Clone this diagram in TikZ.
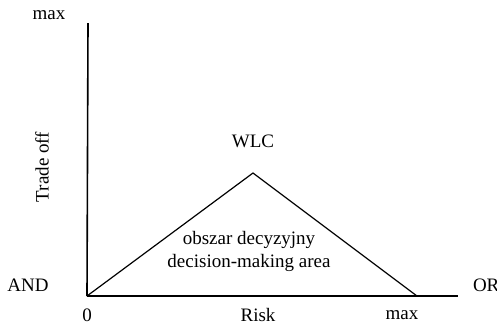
\documentclass[tikz,border=0pt]{standalone}
\usepackage{fontspec}
\setmainfont{Liberation Serif}
\usepackage{tikz}

\begin{document}
\begin{tikzpicture}[
  x=1pt,
  y=-1pt,
  lbl/.style={
    font=\fontsize{19}{22}\selectfont,
    inner sep=0pt,
    outer sep=0pt
  },
  axis/.style={line width=1.6pt},
  edge/.style={line width=1.2pt, line join=miter}
]
\useasboundingbox (0,0) rectangle (497,325);
\coordinate (O) at (87,296);
\coordinate (ytop) at (88,23);
\coordinate (xend) at (458,296);
\coordinate (apex) at (253,173);
\coordinate (rmax) at (417,296);
\draw[axis] (O) -- (ytop);
\draw[axis] (O) -- (xend);
\draw[edge] (O) -- (apex) -- (rmax);
% labels
\node[lbl] (maxy) at (49,15) {max};
\node[lbl, rotate=90] (trade) at (42,167) {Trade off};
\node[lbl] (and) at (28,285) {AND};
\node[lbl, anchor=west] (or) at (473,285) {OR};
\node[lbl] (zero) at (87,315) {0};
\node[lbl] (risk) at (258,315) {Risk};
\node[lbl] (maxx) at (402,315) {max};
\node[lbl] (wlc) at (253,141) {WLC};
\node[lbl] (pl) at (249,240) {obszar decyzyjny};
\node[lbl] (en) at (249,263) {decision-making area};
\end{tikzpicture}
\end{document}
